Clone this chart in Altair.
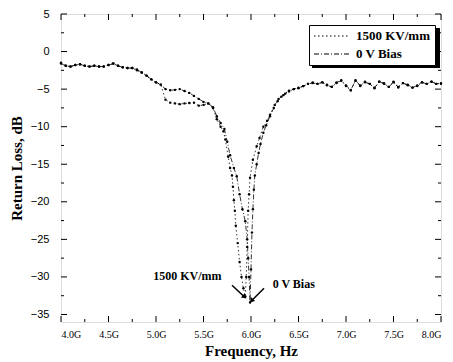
import altair as alt
import pandas as pd

S1 = "1500 KV/mm"
S2 = "0 V Bias"

# ---- shared low-frequency part (GHz, dB)
f_low = [4.00, 4.05, 4.10, 4.15, 4.20, 4.25, 4.30, 4.35, 4.40, 4.45, 4.50,
         4.55, 4.60, 4.65, 4.70, 4.75, 4.80, 4.85, 4.90, 4.95, 5.00, 5.05]
v_low_s1 = [-1.5, -1.9, -2.0, -1.8, -1.7, -1.9, -2.0, -1.9, -2.0, -2.0, -1.8,
            -1.6, -1.9, -2.1, -2.2, -2.2, -2.5, -2.8, -3.2, -3.7, -4.1, -4.4]
v_low_s2 = [-1.6, -1.9, -2.0, -1.8, -1.7, -1.9, -2.0, -1.9, -2.0, -2.0, -1.8,
            -1.6, -1.9, -2.1, -2.2, -2.2, -2.4, -2.8, -3.2, -3.7, -4.1, -4.4]

# ---- 1500 KV/mm : middle / resonance part
f_mid_s1 = [5.10, 5.15, 5.20, 5.25, 5.30, 5.35, 5.40, 5.45, 5.50, 5.55, 5.60,
            5.64, 5.68, 5.71, 5.73, 5.76, 5.78, 5.80, 5.81, 5.82, 5.83, 5.84,
            5.86, 5.88, 5.90, 5.92, 5.94, 5.95, 5.96, 5.97, 5.98, 5.99, 6.02,
            6.06, 6.09, 6.13, 6.17, 6.20, 6.25, 6.29, 6.34]
v_mid_s1 = [-6.4, -6.8, -6.9, -7.0, -6.9, -6.85, -6.8, -7.2, -7.1, -6.9, -7.5,
            -9.0, -10.0, -10.6, -11.7, -14.0, -15.5, -16.5, -18.0, -19.8, -21.2, -23.2,
            -25.5, -28.0, -30.0, -31.5, -32.6, -30.0, -26.0, -21.2, -19.0, -16.8, -14.4,
            -12.6, -11.5, -10.0, -9.2, -8.4, -7.1, -6.3, -5.8]

# ---- 0 V Bias : middle / resonance part
f_mid_s2 = [5.10, 5.15, 5.20, 5.25, 5.30, 5.35, 5.40, 5.45, 5.50, 5.55, 5.60,
            5.64, 5.68, 5.72, 5.75, 5.78, 5.82, 5.85, 5.88, 5.91, 5.94, 5.96,
            5.97, 5.98, 5.99, 6.00, 6.01, 6.02, 6.03, 6.04, 6.06, 6.08, 6.10,
            6.13, 6.16, 6.20, 6.24, 6.28, 6.32, 6.36]
v_mid_s2 = [-5.0, -5.15, -5.1, -5.0, -5.25, -5.5, -5.9, -6.3, -6.7, -6.9, -7.4,
            -8.6, -9.5, -10.3, -12.0, -13.8, -15.5, -16.6, -19.0, -21.0, -22.6, -25.0,
            -27.5, -30.0, -33.4, -29.0, -24.1, -21.0, -18.4, -16.5, -15.0, -13.5, -12.3,
            -10.8, -9.8, -8.6, -7.5, -6.6, -6.0, -5.6]

# ---- shared high-frequency part
f_high = [6.40, 6.45, 6.50, 6.55, 6.60, 6.65, 6.70, 6.75, 6.80, 6.85, 6.90,
          6.95, 7.00, 7.05, 7.10, 7.15, 7.20, 7.25, 7.30, 7.35, 7.40, 7.45,
          7.50, 7.55, 7.60, 7.65, 7.70, 7.75, 7.80, 7.85, 7.90, 7.95, 8.00]
v_high_s1 = [-5.2, -5.0, -4.9, -4.6, -4.3, -4.1, -4.3, -4.1, -4.4, -4.7, -4.2,
             -3.8, -4.6, -5.2, -3.8, -4.6, -4.0, -4.3, -4.9, -4.0, -4.2, -4.7,
             -4.0, -4.8, -4.2, -4.4, -4.8, -4.6, -4.1, -4.3, -4.0, -4.3, -4.2]
v_high_s2 = [-5.3, -5.0, -4.8, -4.6, -4.3, -4.2, -4.3, -4.1, -4.5, -4.7, -4.1,
             -3.9, -4.5, -5.1, -3.9, -4.5, -4.1, -4.3, -4.8, -4.0, -4.3, -4.7,
             -4.1, -4.7, -4.2, -4.5, -4.8, -4.5, -4.1, -4.3, -4.0, -4.3, -4.3]

# ---- axes
x_major = [4.0, 4.5, 5.0, 5.5, 6.0, 6.5, 7.0, 7.5, 8.0]
x_minor = [4.25, 4.75, 5.25, 5.75, 6.25, 6.75, 7.25, 7.75]
y_major = [5, 0, -5, -10, -15, -20, -25, -30, -35]
y_minor = [2.5, -2.5, -7.5, -12.5, -17.5, -22.5, -27.5, -32.5]

# ---- annotations
ann_text = [S1, S2]
ann_x = [5.33, 6.45]
ann_y = [-29.9, -30.9]
arrow_x = [5.80, 6.137]
arrow_x2 = [5.926, 6.011]
arrow_y = [-31.1, -31.5]
arrow_y2 = [-32.6, -33.1]
arrow_angle = [132, 225]

rows = []
for f, v in zip(f_low + f_mid_s1 + f_high, v_low_s1 + v_mid_s1 + v_high_s1):
    rows.append({"f": f, "v": v, "series": S1})
for f, v in zip(f_low + f_mid_s2 + f_high, v_low_s2 + v_mid_s2 + v_high_s2):
    rows.append({"f": f, "v": v, "series": S2})
df = pd.DataFrame(rows)

W, H = 380, 308
SERIF = "Liberation Serif"
SANS = "Liberation Sans"

xs = alt.Scale(domain=[4, 8], nice=False)
ys = alt.Scale(domain=[-36, 5], nice=False)

x_axis = alt.Axis(values=x_major, labelExpr="format(datum.value, '.1f') + 'G'",
                  title="Frequency, Hz", ticks=False, tickSize=0, domain=False, grid=False,
                  labelFont=SERIF, labelFontSize=10, labelPadding=7, labelOverlap=False,
                  titleFont=SERIF, titleFontSize=15, titleFontWeight="bold",
                  titlePadding=4, labelColor="black", titleColor="black")
y_axis = alt.Axis(values=y_major, title="Return Loss, dB", ticks=False, tickSize=0,
                  domain=False, grid=False, labelFont=SANS, labelFontSize=11,
                  labelPadding=12, labelOverlap=False, titleFont=SERIF, titleFontSize=15,
                  titleFontWeight="bold", titlePadding=6,
                  labelColor="black", titleColor="black")

XA = lambda f: alt.X(f, scale=xs, axis=x_axis)
YA = lambda f: alt.Y(f, scale=ys, axis=y_axis)

lines = alt.Chart(df).mark_line(strokeWidth=0.8, color="black").encode(
    x=XA("f:Q"), y=YA("v:Q"),
    strokeDash=alt.StrokeDash("series:N",
                              scale=alt.Scale(domain=[S1, S2], range=[[1.5, 2.5], [5, 2, 1, 2]]),
                              legend=alt.Legend(title=None, orient="none", legendX=248, legendY=11,
                                                strokeColor="black", fillColor="white", padding=4,
                                                labelFont=SERIF, labelFontSize=13, labelFontWeight="bold",
                                                labelColor="black", symbolType="stroke",
                                                symbolStrokeColor="black", symbolStrokeWidth=1.2,
                                                symbolSize=1296, clipHeight=14, rowPadding=4,
                                                labelOffset=5)),
    detail="series:N",
)
points = alt.Chart(df).mark_circle(size=6, color="black", opacity=1).encode(
    x=XA("f:Q"), y=YA("v:Q"))

ann_df = pd.DataFrame({"t": ann_text, "x": ann_x, "y": ann_y})
ann = alt.Chart(ann_df).mark_text(font=SERIF, fontSize=12, fontWeight="bold", color="black").encode(
    x=XA("x:Q"), y=YA("y:Q"), text="t:N")

arr_df = pd.DataFrame({"x": arrow_x, "x2": arrow_x2, "y": arrow_y, "y2": arrow_y2, "a": arrow_angle})
arr = alt.Chart(arr_df).mark_rule(color="black", strokeWidth=1.5).encode(
    x=XA("x:Q"), x2="x2:Q", y=YA("y:Q"), y2="y2:Q")
heads = alt.Chart(arr_df).mark_point(shape="triangle", filled=True, color="black", size=30, opacity=1).encode(
    x=XA("x2:Q"), y=YA("y2:Q"), angle=alt.Angle("a:Q", scale=None))

xmaj = pd.DataFrame({"t": x_major})
xmin = pd.DataFrame({"t": x_minor})
ymaj = pd.DataFrame({"t": y_major})
ymin = pd.DataFrame({"t": y_minor})

def xt(d, y0, y1):
    return alt.Chart(d).mark_rule(color="black", strokeWidth=1).encode(
        x=XA("t:Q"), y=alt.value(y0), y2=alt.value(y1))

def yt(d, x0, x1):
    return alt.Chart(d).mark_rule(color="black", strokeWidth=1).encode(
        y=YA("t:Q"), x=alt.value(x0), x2=alt.value(x1))

ticks = [xt(xmaj, H, H - 6), xt(xmin, H, H - 3), xt(xmaj, 0, 6), xt(xmin, 0, 3),
         yt(ymaj, 0, 6), yt(ymin, 0, 3), yt(ymaj, W, W - 6), yt(ymin, W, W - 3)]

shadow = alt.Chart(pd.DataFrame({"d": [0]})).mark_rect(color="black").encode(
    x=alt.value(251), x2=alt.value(379), y=alt.value(14), y2=alt.value(54))

chart = alt.layer(lines, shadow, points, ann, arr, heads, *ticks).properties(
    width=W, height=H,
    autosize=alt.AutoSizeParams(type="none"),
    padding={"left": 53, "top": 6, "right": 4, "bottom": 38},
).configure_view(stroke="black", strokeWidth=1.5).configure(background="white")

chart.save("out.html", embed_options={"renderer": "svg", "actions": False})
